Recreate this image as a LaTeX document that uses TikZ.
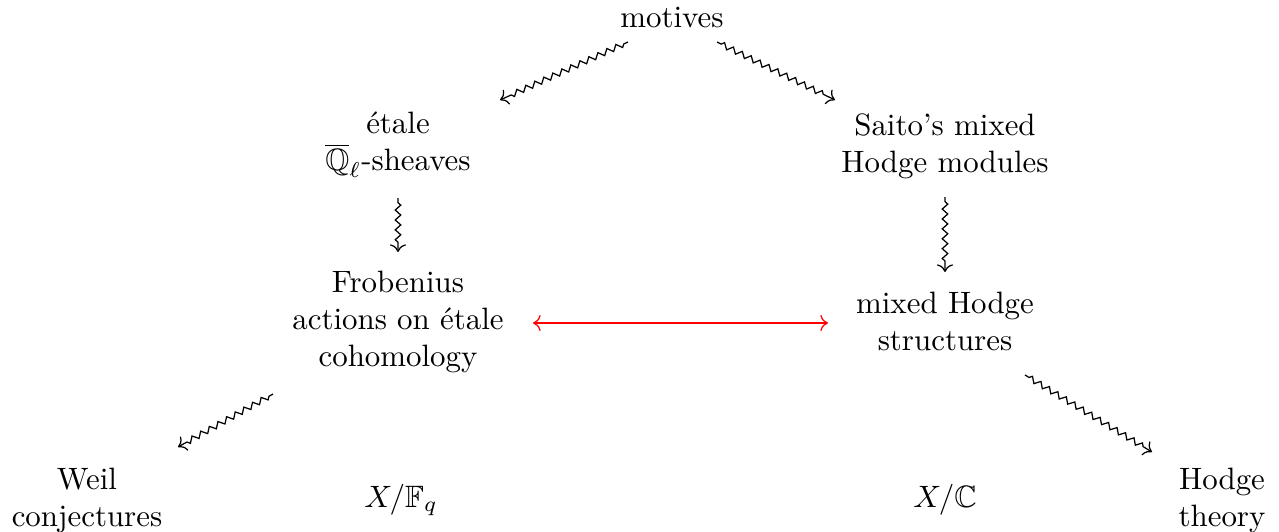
\documentclass[tikz,border=0pt]{standalone}
\usepackage{amssymb}
\usepackage{tikz-cd}
\usetikzlibrary{decorations.pathmorphing,calc}
\begin{document}
\begin{tikzpicture}[x=0.3236pt,y=-0.3236pt,
  lbl/.style={align=center,inner sep=0pt,font=\fontsize{10pt}{12pt}\selectfont},
  sq/.style={decorate,decoration={zigzag,amplitude=0.9pt,segment length=3.2pt,pre length=1.5pt,post length=3pt},-cm to},
  biarrow/.style={red,cm to-cm to}]
\useasboundingbox (0,0) rectangle (1279,531);
\node[lbl,anchor=base] (motives) at (672,27) {motives};
\node[lbl] (etale) at (398,145) {étale\\$\overline{\mathbb{Q}}_\ell$-sheaves};
\node[lbl] (saito) at (945,146) {Saito's mixed\\Hodge modules};
\node[lbl] (frob) at (398,322) {Frobenius\\actions on étale\\cohomology};
\node[lbl] (mhs) at (945,321) {mixed Hodge\\structures};
\node[lbl] (weil) at (87,500) {Weil\\conjectures};
\node[lbl,anchor=base] (xfq) at (401,507) {$X/\mathbb{F}_q$};
\node[lbl,anchor=base] (xc) at (945,507) {$X/\mathbb{C}$};
\node[lbl] (hodge) at (1222,500) {Hodge\\theory};
\draw[sq] ($(motives.center)+(-44,25)$) -- ($(etale.center)+(102,-45)$);
\draw[sq] ($(motives.center)+(45,25)$) -- ($(saito.center)+(-110,-46)$);
\draw[sq] ($(etale.center)+(0,53)$) -- ($(frob.center)+(0,-70)$);
\draw[sq] ($(saito.center)+(0,51)$) -- ($(mhs.center)+(0,-49)$);
\draw[biarrow] ($(frob.center)+(135,1)$) -- ($(mhs.center)+(-117,2)$);
\draw[sq] ($(frob.center)+(-125,72)$) -- ($(weil.center)+(91,-53)$);
\draw[sq] ($(mhs.center)+(80,54)$) -- ($(hodge.center)+(-70,-48)$);
\end{tikzpicture}
\end{document}
